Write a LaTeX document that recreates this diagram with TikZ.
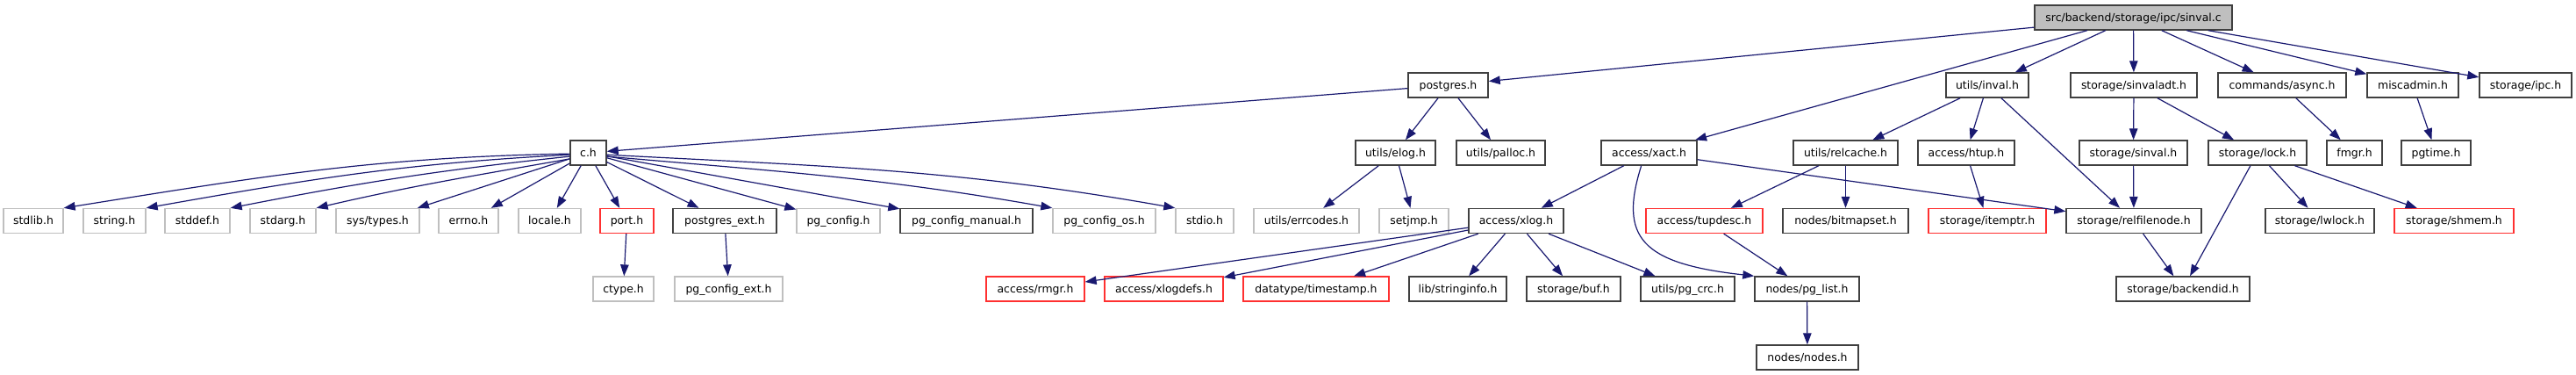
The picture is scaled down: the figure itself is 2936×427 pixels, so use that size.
\documentclass[tikz,border=0pt]{standalone}
\usepackage{fontspec}
\setmainfont{DejaVu Sans}
\usetikzlibrary{arrows.meta}
\definecolor{eb}{HTML}{191970}
\definecolor{dk}{HTML}{404040}
\definecolor{lg}{HTML}{BFBFBF}
\definecolor{rdc}{HTML}{FF3030}
\definecolor{selg}{HTML}{BFBFBF}
\begin{document}
\begin{tikzpicture}[x=1pt,y=1pt,
 base/.style={fill=white, inner sep=0pt, minimum height=28pt, text height=10pt, text depth=1pt, font=\fontsize{12.45}{14}\selectfont, text=black},
 blk/.style={base, draw=dk, line width=1.4pt},
 gry/.style={base, draw=lg, line width=1.3pt},
 rdn/.style={base, draw=rdc, line width=1.3pt},
 e/.style={draw=eb, line width=1.2pt, -{Triangle[length=13pt,width=9.5pt]}}]
\useasboundingbox (0,0) rectangle (2936,-427);
% row 1
\node[blk, fill=selg, minimum width=225pt] (sinval) at (2431.5,-20) {src/backend/storage/ipc/sinval.c};
% row 2
\node[blk, minimum width=91pt] (postgres) at (1650.5,-97) {postgres.h};
\node[blk, minimum width=94pt] (inval) at (2265,-97) {utils/inval.h};
\node[blk, minimum width=144pt] (sinvaladt) at (2432,-97) {storage/sinvaladt.h};
\node[blk, minimum width=146pt] (async) at (2601,-97) {commands/async.h};
\node[blk, minimum width=104pt] (miscadmin) at (2750,-97) {miscadmin.h};
\node[blk, minimum width=105pt] (ipc) at (2878.5,-97) {storage/ipc.h};
% row 3
\node[blk, minimum width=41pt] (ch) at (670.5,-174) {c.h};
\node[blk, minimum width=91pt] (elog) at (1590.5,-174) {utils/elog.h};
\node[blk, minimum width=101pt] (palloc) at (1710.5,-174) {utils/palloc.h};
\node[blk, minimum width=109pt] (xact) at (1879.5,-174) {access/xact.h};
\node[blk, minimum width=119pt] (relcache) at (2103.5,-174) {utils/relcache.h};
\node[blk, minimum width=110pt] (htup) at (2241,-174) {access/htup.h};
\node[blk, minimum width=123pt] (sinvalh) at (2431.5,-174) {storage/sinval.h};
\node[blk, minimum width=112pt] (lock) at (2573,-174) {storage/lock.h};
\node[blk, minimum width=63pt] (fmgr) at (2683.5,-174) {fmgr.h};
\node[blk, minimum width=79pt] (pgtime) at (2776.5,-174) {pgtime.h};
% row 4
\node[gry, minimum width=68pt] (stdlib) at (38,-251.5) {stdlib.h};
\node[gry, minimum width=71pt] (string) at (130.5,-251.5) {string.h};
\node[gry, minimum width=74pt] (stddef) at (225,-251.5) {stddef.h};
\node[gry, minimum width=75pt] (stdarg) at (322.5,-251.5) {stdarg.h};
\node[gry, minimum width=95pt] (systypes) at (430.5,-251.5) {sys/types.h};
\node[gry, minimum width=68pt] (errno) at (534,-251.5) {errno.h};
\node[gry, minimum width=71pt] (locale) at (626.5,-251.5) {locale.h};
\node[rdn, minimum width=61pt] (port) at (714.5,-251.5) {port.h};
\node[blk, minimum width=118pt] (pgext) at (826,-251.5) {postgres\_ext.h};
\node[gry, minimum width=95pt] (pgconfig) at (955.5,-251.5) {pg\_config.h};
\node[blk, minimum width=151pt] (pgcman) at (1101.5,-251.5) {pg\_config\_manual.h};
\node[gry, minimum width=117pt] (pgcos) at (1258.5,-251.5) {pg\_config\_os.h};
\node[gry, minimum width=66pt] (stdio) at (1373,-251.5) {stdio.h};
\node[gry, minimum width=120pt] (errcodes) at (1489,-251.5) {utils/errcodes.h};
\node[gry, minimum width=79pt] (setjmp) at (1611.5,-251.5) {setjmp.h};
\node[blk, minimum width=108pt] (xlog) at (1728,-251.5) {access/xlog.h};
\node[rdn, minimum width=133pt] (tupdesc) at (1942.5,-251.5) {access/tupdesc.h};
\node[blk, minimum width=143pt] (bitmapset) at (2103.5,-251.5) {nodes/bitmapset.h};
\node[rdn, minimum width=134pt] (itemptr) at (2265,-251.5) {storage/itemptr.h};
\node[blk, minimum width=154pt] (relfilenode) at (2432,-251.5) {storage/relfilenode.h};
\node[blk, minimum width=124pt] (lwlock) at (2644,-251.5) {storage/lwlock.h};
\node[rdn, minimum width=136pt] (shmem) at (2797,-251.5) {storage/shmem.h};
% row 5
\node[gry, minimum width=69pt] (ctype) at (710.5,-329) {ctype.h};
\node[gry, minimum width=123pt] (pgcfgext) at (830.5,-329) {pg\_config\_ext.h};
\node[rdn, minimum width=112pt] (rmgr) at (1180,-329) {access/rmgr.h};
\node[rdn, minimum width=135pt] (xlogdefs) at (1326.5,-329) {access/xlogdefs.h};
\node[rdn, minimum width=166pt] (timestamp) at (1500,-329) {datatype/timestamp.h};
\node[blk, minimum width=111pt] (stringinfo) at (1661.5,-329) {lib/stringinfo.h};
\node[blk, minimum width=107pt] (buf) at (1793.5,-329) {storage/buf.h};
\node[blk, minimum width=107pt] (pgcrc) at (1923.5,-329) {utils/pg\_crc.h};
\node[blk, minimum width=119pt] (pglist) at (2059.5,-329) {nodes/pg\_list.h};
\node[blk, minimum width=152pt] (backendid) at (2488,-329) {storage/backendid.h};
% row 6
\node[blk, minimum width=116pt] (nodes) at (2060,-407) {nodes/nodes.h};
% edges
\draw[e] (sinval) -- (postgres);
\draw[e] (sinval) -- (xact);
\draw[e] (sinval) -- (inval);
\draw[e] (sinval) -- (sinvaladt);
\draw[e] (sinval) -- (async);
\draw[e] (sinval) -- (miscadmin);
\draw[e] (sinval) -- (ipc);
\draw[e] (postgres) -- (ch);
\draw[e] (postgres) -- (elog);
\draw[e] (postgres) -- (palloc);
\draw[e] (ch.183) to[out=181,in=9] (stdlib.north east);
\draw[e] (ch.186) to[out=183,in=10] (string.north east);
\draw[e] (ch.191) to[out=186,in=11] (stddef.north east);
\draw[e] (ch.198) to[out=190,in=13] (stdarg.north east);
\draw[e] (ch) -- (systypes);
\draw[e] (ch) -- (errno);
\draw[e] (ch) -- (locale);
\draw[e] (ch) -- (port);
\draw[e] (ch) -- (pgext);
\draw[e] (ch) -- (pgconfig);
\draw[e] (ch) -- (pgcman);
\draw[e] (ch.-11) to[out=-5,in=170] (pgcos.north west);
\draw[e] (ch.-6) to[out=-3,in=170] (stdio.north west);
\draw[e] (port) -- (ctype);
\draw[e] (pgext) -- (pgcfgext);
\draw[e] (elog) -- (errcodes);
\draw[e] (elog) -- (setjmp);
\draw[e] (xact) -- (xlog);
\draw[e] (xact) -- (relfilenode);
\draw[e] (xact.239) .. controls (1845,-270) and (1870,-300) .. (pglist.north west);
\draw[e] (xlog) -- (rmgr);
\draw[e] (xlog) -- (xlogdefs);
\draw[e] (xlog) -- (timestamp);
\draw[e] (xlog) -- (stringinfo);
\draw[e] (xlog) -- (buf);
\draw[e] (xlog) -- (pgcrc);
\draw[e] (inval) -- (relcache);
\draw[e] (inval) -- (htup);
\draw[e] (inval) -- (relfilenode);
\draw[e] (relcache) -- (tupdesc);
\draw[e] (relcache) -- (bitmapset);
\draw[e] (htup) -- (itemptr);
\draw[e] (tupdesc) -- (pglist);
\draw[e] (pglist) -- (nodes);
\draw[e] (sinvaladt) -- (sinvalh);
\draw[e] (sinvaladt) -- (lock);
\draw[e] (sinvalh) -- (relfilenode);
\draw[e] (relfilenode) -- (backendid);
\draw[e] (lock) -- (backendid);
\draw[e] (lock) -- (lwlock);
\draw[e] (lock) -- (shmem);
\draw[e] (async) -- (fmgr);
\draw[e] (miscadmin) -- (pgtime);
\end{tikzpicture}
\end{document}
